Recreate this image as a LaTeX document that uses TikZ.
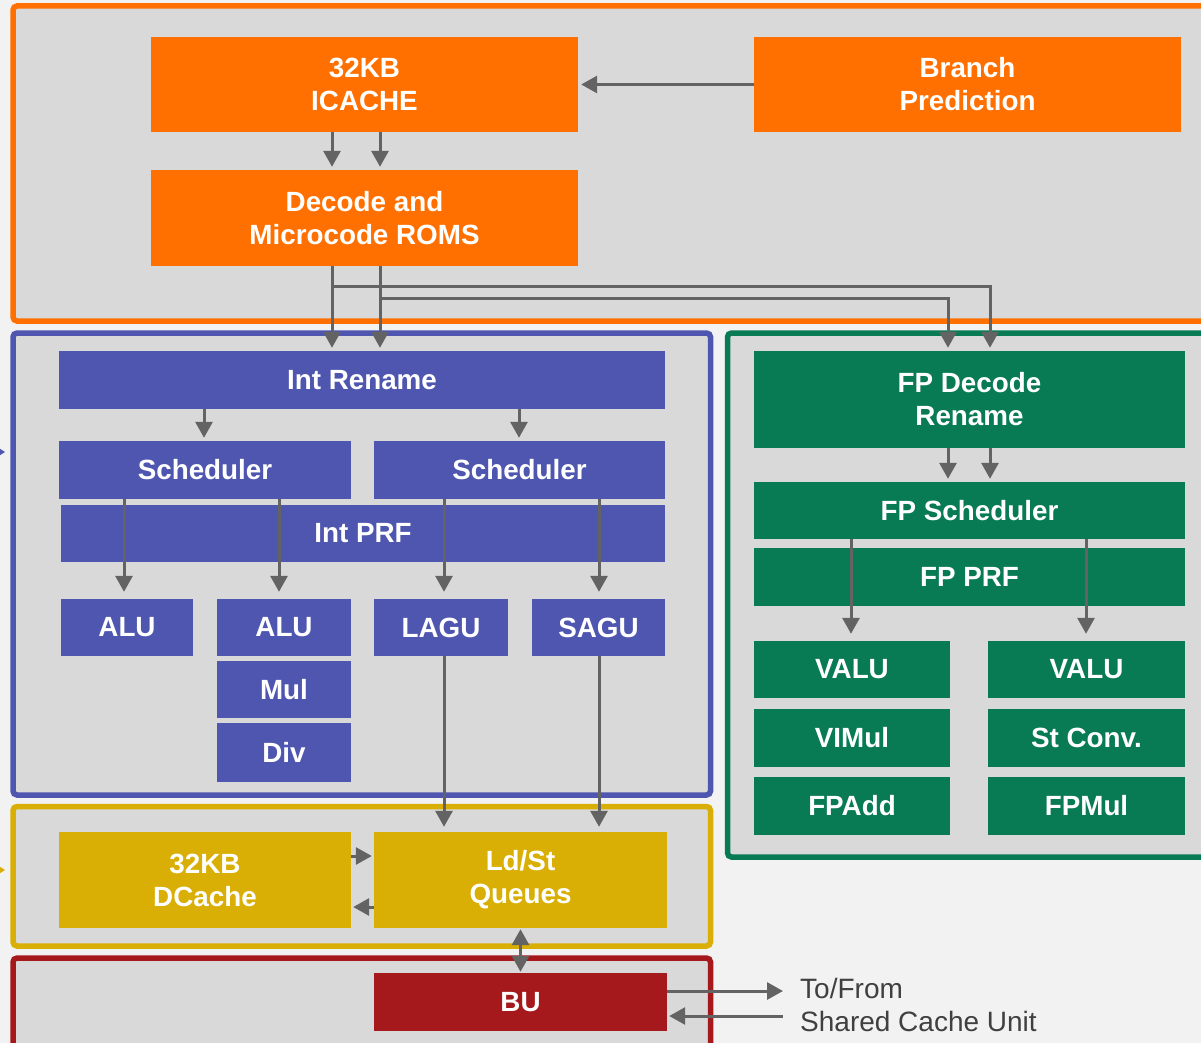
\documentclass[tikz,border=0pt]{standalone}
\usepackage{fontspec}
\setmainfont{Liberation Sans}
\usetikzlibrary{arrows.meta}

\definecolor{pageBg}{HTML}{F2F2F2}
\definecolor{frameGray}{HTML}{D9D9D9}
\definecolor{orangeC}{HTML}{FF7000}
\definecolor{blueC}{HTML}{4E56B0}
\definecolor{greenC}{HTML}{087A54}
\definecolor{yellowC}{HTML}{D9AF05}
\definecolor{redC}{HTML}{A5191C}
\definecolor{arrGray}{HTML}{636363}
\definecolor{noteGray}{HTML}{404040}

\newcommand\boxfont{\bfseries\fontsize{27.8}{33}\selectfont}
\newcommand\notefont{\fontsize{28}{33}\selectfont}

\tikzset{
  frame/.style={line width=5.5pt, fill=frameGray, rounded corners=4pt},
  bx/.style={inner sep=0pt, align=center, text=white, font=\boxfont},
  arr/.style={draw=arrGray, line width=3pt, -{Triangle[width=17pt,length=16pt]}, shorten >=3pt},
  darr/.style={draw=arrGray, line width=3pt, {Triangle[width=17pt,length=16pt]}-{Triangle[width=17pt,length=16pt]}, shorten >=1pt, shorten <=1pt},
}

\begin{document}
\begin{tikzpicture}[x=1pt,y=-1pt]
\useasboundingbox (0,0) rectangle (1201,1043);
\fill[pageBg] (0,0) rectangle (1201,1043);

% unit frames
\draw[frame, draw=orangeC] (13,6) rectangle (1240,321);
\draw[frame, draw=blueC]   (13,333) rectangle (710.5,795);
\draw[frame, draw=yellowC] (13,806.5) rectangle (710.5,946);
\draw[frame, draw=redC]    (13,958) rectangle (710.5,1070);
\draw[frame, draw=greenC]  (727.5,333) rectangle (1240,857);

% incoming arrow tips at the left edge
\fill[blueC]   (-6,445) -- (5,452) -- (-6,459) -- cycle;
\fill[yellowC] (-6,863) -- (5,870) -- (-6,877) -- cycle;

% front end
\node[bx, fill=orangeC, minimum width=427, minimum height=95] (icache) at (364.5,84.5) {32KB\\ICACHE};
\node[bx, fill=orangeC, minimum width=427, minimum height=95] (bp) at (967.5,84.5) {Branch\\Prediction};
\node[bx, fill=orangeC, minimum width=427, minimum height=96] (dec) at (364.5,218) {Decode and\\Microcode ROMS};

% integer unit
\node[bx, fill=blueC, minimum width=606, minimum height=58] (intren) at (362,380) {Int Rename};
\node[bx, fill=blueC, minimum width=292, minimum height=58] (sch1) at (205,470) {Scheduler};
\node[bx, fill=blueC, minimum width=291, minimum height=58] (sch2) at (519.5,470) {Scheduler};
\node[bx, fill=blueC, minimum width=604, minimum height=57] (intprf) at (363,533.5) {Int PRF};
\node[bx, fill=blueC, minimum width=132, minimum height=57] (alu1) at (127,627.5) {ALU};
\node[bx, fill=blueC, minimum width=134, minimum height=57] (alu2) at (284,627.5) {ALU};
\node[bx, fill=blueC, minimum width=134, minimum height=57] (lagu) at (441,627.5) {LAGU};
\node[bx, fill=blueC, minimum width=133, minimum height=57] (sagu) at (598.5,627.5) {SAGU};
\node[bx, fill=blueC, minimum width=134, minimum height=57] (mul) at (284,689.5) {Mul};
\node[bx, fill=blueC, minimum width=134, minimum height=59] (div) at (284,752.5) {Div};

% floating point unit
\node[bx, fill=greenC, minimum width=431, minimum height=97] (fpdec) at (969.5,399.5) {FP Decode\\Rename};
\node[bx, fill=greenC, minimum width=431, minimum height=57] (fpsch) at (969.5,510.5) {FP Scheduler};
\node[bx, fill=greenC, minimum width=431, minimum height=58] (fpprf) at (969.5,577) {FP PRF};
\node[bx, fill=greenC, minimum width=196, minimum height=57] (valu1) at (852,669.5) {VALU};
\node[bx, fill=greenC, minimum width=197, minimum height=57] (valu2) at (1086.5,669.5) {VALU};
\node[bx, fill=greenC, minimum width=196, minimum height=58] (vimul) at (852,738) {VIMul};
\node[bx, fill=greenC, minimum width=197, minimum height=58] (stconv) at (1086.5,738) {St Conv.};
\node[bx, fill=greenC, minimum width=196, minimum height=58] (fpadd) at (852,806) {FPAdd};
\node[bx, fill=greenC, minimum width=197, minimum height=58] (fpmul) at (1086.5,806) {FPMul};

% load/store and bus
\node[bx, fill=yellowC, minimum width=292, minimum height=96] (dcache) at (205,880) {32KB\\DCache};
\node[bx, fill=yellowC, minimum width=293, minimum height=96] (ldst) at (520.5,880) {Ld/St\\Queues};
\node[bx, fill=redC, minimum width=293, minimum height=58] (bu) at (520.5,1002) {BU};
\node[anchor=west, align=left, inner sep=0pt, text=noteGray, font=\notefont] (scu) at (800,1004.5) {To/From\\Shared Cache Unit};

% connector columns and rows
\coordinate (cA) at (332,0);
\coordinate (cB) at (380,0);
\coordinate (cFa) at (948,0);
\coordinate (cFb) at (990,0);
\coordinate (cS1) at (204,0);
\coordinate (cS2) at (519,0);
\coordinate (cU1) at (124,0);
\coordinate (cU2) at (279,0);
\coordinate (cU3) at (444,0);
\coordinate (cU4) at (599,0);
\coordinate (cV1) at (851,0);
\coordinate (cV2) at (1086,0);
\coordinate (rD1) at (0,856);
\coordinate (rD2) at (0,907);
\coordinate (rB1) at (0,991);
\coordinate (rB2) at (0,1016);

% front end connectors
\draw[arr] (bp.west) -- (icache.east);
\draw[arr] (icache.south -| cA) -- (dec.north -| cA);
\draw[arr] (icache.south -| cB) -- (dec.north -| cB);
\draw[arr] (dec.south -| cA) -- (intren.north -| cA);
\draw[arr] (dec.south -| cB) -- (intren.north -| cB);
\draw[arr] (dec.south -| cA) ++(0,20) -| (fpdec.north -| cFb);
\draw[arr] (dec.south -| cB) ++(0,32) -| (fpdec.north -| cFa);

% integer connectors
\draw[arr] (intren.south -| cS1) -- (sch1.north -| cS1);
\draw[arr] (intren.south -| cS2) -- (sch2.north -| cS2);
\draw[arr, shorten >=7pt] (sch1.south -| cU1) -- (alu1.north -| cU1);
\draw[arr, shorten >=7pt] (sch1.south -| cU2) -- (alu2.north -| cU2);
\draw[arr, shorten >=7pt] (sch2.south -| cU3) -- (lagu.north -| cU3);
\draw[arr, shorten >=7pt] (sch2.south -| cU4) -- (sagu.north -| cU4);
\draw[arr, shorten >=5pt] (lagu.south -| cU3) -- (ldst.north -| cU3);
\draw[arr, shorten >=5pt] (sagu.south -| cU4) -- (ldst.north -| cU4);

% floating point connectors
\draw[arr] (fpdec.south -| cFa) -- (fpsch.north -| cFa);
\draw[arr] (fpdec.south -| cFb) -- (fpsch.north -| cFb);
\draw[arr, shorten >=7pt] (fpsch.south -| cV1) -- (valu1.north -| cV1);
\draw[arr, shorten >=7pt] (fpsch.south -| cV2) -- (valu2.north -| cV2);

% load/store and bus connectors
\draw[arr, shorten >=2pt] (dcache.east |- rD1) -- (ldst.west |- rD1);
\draw[arr, shorten >=2pt] (ldst.west |- rD2) -- (dcache.east |- rD2);
\draw[darr] (ldst.south) -- (bu.north);
\draw[arr, shorten >=17pt] (bu.east |- rB1) -- (scu.west |- rB1);
\draw[arr, shorten <=17pt, shorten >=2pt] (scu.west |- rB2) -- (bu.east |- rB2);
\end{tikzpicture}
\end{document}
